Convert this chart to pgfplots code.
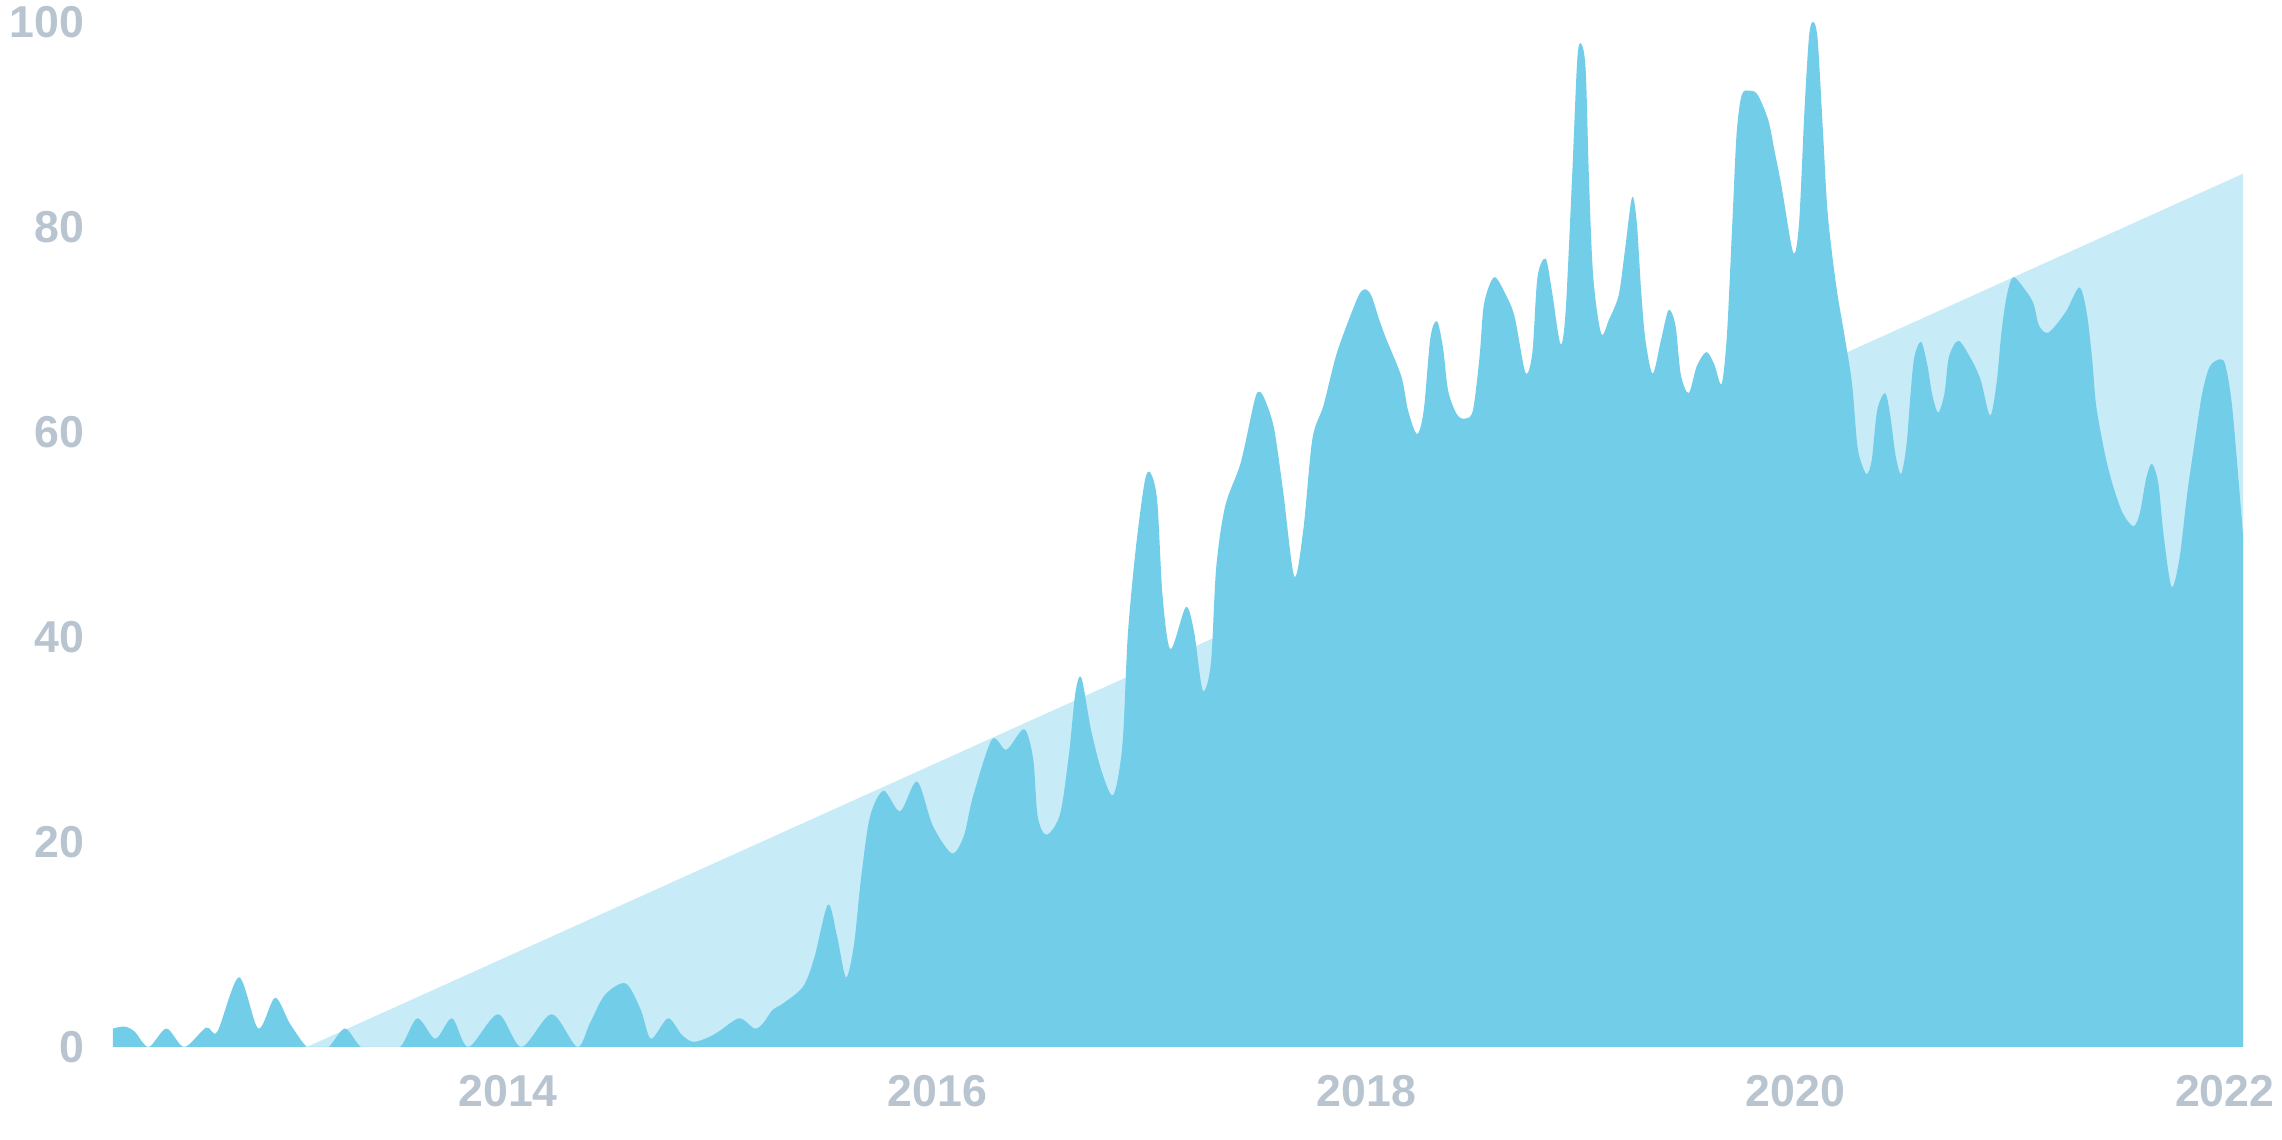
\documentclass[border=0pt]{standalone}
\usepackage{pgfplots}
\pgfplotsset{compat=1.18}
\usepackage{fontspec}
\setmainfont{Liberation Sans}
\definecolor{mainblue}{HTML}{72CDE9}
\definecolor{lightblue}{HTML}{C8EBF8}
\definecolor{ticklab}{HTML}{B8C4CF}
\begin{document}
\begin{tikzpicture}
\begin{axis}[
  scale only axis,
  width=639pt, height=307.5pt,
  at={(0,0)}, anchor=south west,
  xmin=2012.159, xmax=2022.085,
  ymin=0, ymax=100,
  axis line style={draw=none},
  major tick length=0pt,
  xtick={2014,2016,2018,2020,2022},
  xticklabels={2014,2016,2018,2020,2022},
  ytick={0,20,40,60,80,100},
  /pgf/number format/assume math mode=true,
  ticklabel style={font=\fontsize{13.4}{15}\selectfont\bfseries, text=ticklab, inner sep=0pt},
  yticklabel style={anchor=east, xshift=-8.4pt},
  xticklabel style={anchor=north, yshift=-8.2pt},
]
\addplot[fill=lightblue, draw=none] coordinates {(2013.062,0) (2022.085,85.2) (2022.085,0)} \closedcycle;
\addplot[fill=mainblue, draw=none, smooth, tension=0.5] coordinates {
(2012.159,1.8) (2012.213,2.0) (2012.26,1.5) (2012.325,0) (2012.408,1.8) (2012.491,0)
(2012.593,1.9) (2012.645,1.5) (2012.746,6.8) (2012.836,1.8) (2012.914,4.8) (2012.983,2.3)
(2013.062,0) (2013.11,0) (2013.164,0) (2013.24,1.8) (2013.315,0) (2013.40,0) (2013.497,0)
(2013.577,2.8) (2013.661,0.8) (2013.739,2.8) (2013.815,0) (2013.953,3.2) (2014.062,0)
(2014.203,3.2) (2014.322,0) (2014.381,2.3) (2014.452,5.1) (2014.548,6.2) (2014.619,3.6)
(2014.666,0.8) (2014.745,2.8) (2014.809,1.2) (2014.864,0.5) (2014.94,1.0) (2014.988,1.6)
(2015.078,2.8) (2015.149,1.8) (2015.188,2.3) (2015.232,3.6) (2015.285,4.3) (2015.375,5.9)
(2015.427,8.7) (2015.491,13.9) (2015.534,10.7) (2015.575,6.8) (2015.612,10.0) (2015.645,16.5)
(2015.687,22.5) (2015.75,25.0) (2015.827,23.0) (2015.906,25.9) (2015.979,21.6) (2016.068,18.9)
(2016.124,20.6) (2016.166,24.4) (2016.255,30.0) (2016.322,29.0) (2016.405,31.0) (2016.447,28.1)
(2016.468,22.5) (2016.509,20.7) (2016.572,22.7) (2016.614,28.6) (2016.644,34.6) (2016.672,36.0)
(2016.717,30.9) (2016.769,26.7) (2016.821,24.6) (2016.863,29.5) (2016.888,40.2) (2016.925,48.6)
(2016.967,55.2) (2016.994,56.0) (2017.025,53.3) (2017.05,44.0) (2017.087,38.8) (2017.158,42.9)
(2017.196,40.6) (2017.237,34.8) (2017.275,37.4) (2017.3,46.8) (2017.342,52.8) (2017.414,57.0)
(2017.48,63.2) (2017.504,63.9) (2017.53,63.0) (2017.57,60.3) (2017.612,54.2) (2017.664,45.9) (2017.706,50.5) (2017.748,59.3)
(2017.8,62.6) (2017.862,67.7) (2017.945,72.4) (2017.975,73.7) (2018.0,73.9) (2018.025,73.2) (2018.059,71.0) (2018.09,69.2)
(2018.163,65.4) (2018.194,62.1) (2018.236,59.8) (2018.267,62.1) (2018.298,69.2) (2018.329,70.8)
(2018.357,68.2) (2018.381,64.0) (2018.422,61.7) (2018.46,61.3) (2018.496,62.1) (2018.527,67.3)
(2018.548,72.5) (2018.595,75.1) (2018.649,73.4) (2018.691,71.2) (2018.741,65.8) (2018.773,67.7)
(2018.797,75.1) (2018.835,76.9) (2018.864,73.8) (2018.904,68.6) (2018.928,71.7) (2018.958,84.7)
(2018.983,96.5) (2019.003,97.8) (2019.022,95.2) (2019.037,84.7) (2019.057,75.1) (2019.094,69.6)
(2019.131,71.0) (2019.176,73.4) (2019.205,77.8) (2019.238,82.9) (2019.26,80.4) (2019.28,73.8)
(2019.3,69.0) (2019.334,65.7) (2019.373,69.0) (2019.408,71.9) (2019.44,70.4) (2019.465,65.6)
(2019.502,63.8) (2019.539,66.4) (2019.584,67.8) (2019.621,66.6) (2019.655,64.7) (2019.68,69.5)
(2019.705,80.4) (2019.725,89.1) (2019.749,92.9) (2019.786,93.3) (2019.823,92.9) (2019.873,90.4)
(2019.903,87.3) (2019.935,83.9) (2019.989,77.5) (2020.016,80.4) (2020.041,91.3) (2020.063,98.7)
(2020.083,100) (2020.103,98.2) (2020.128,89.1) (2020.15,81.2) (2020.189,74.3) (2020.231,69.0)
(2020.263,64.7) (2020.288,58.6) (2020.313,56.6) (2020.333,55.9) (2020.355,57.3) (2020.38,62.1)
(2020.417,63.8) (2020.441,61.6) (2020.466,57.7) (2020.491,55.9) (2020.516,58.6) (2020.536,63.8)
(2020.553,67.3) (2020.585,68.8) (2020.615,66.4) (2020.635,63.8) (2020.664,61.9) (2020.694,63.8)
(2020.714,67.3) (2020.758,68.9) (2020.813,67.3) (2020.862,65.1) (2020.906,61.6) (2020.936,64.7)
(2020.96,69.9) (2020.985,73.4) (2021.015,75.1) (2021.072,73.8) (2021.109,72.5) (2021.134,70.4)
(2021.178,69.7) (2021.258,71.7) (2021.322,74.1) (2021.356,71.7) (2021.381,67.3) (2021.401,62.5)
(2021.443,57.7) (2021.48,54.7) (2021.524,52.1) (2021.574,50.8) (2021.604,52.1) (2021.634,55.5)
(2021.66,56.9) (2021.69,55.0) (2021.715,49.9) (2021.752,44.9) (2021.789,47.7) (2021.826,54.2)
(2021.863,59.5) (2021.895,63.8) (2021.93,66.4) (2021.979,67.1) (2022.004,66.4) (2022.036,62.1)
(2022.085,49.9)
} \closedcycle;
\end{axis}
\pgfresetboundingbox
\useasboundingbox (-33.9pt,-27.9pt) rectangle (650.7pt,314.1pt);
\end{tikzpicture}
\end{document}
